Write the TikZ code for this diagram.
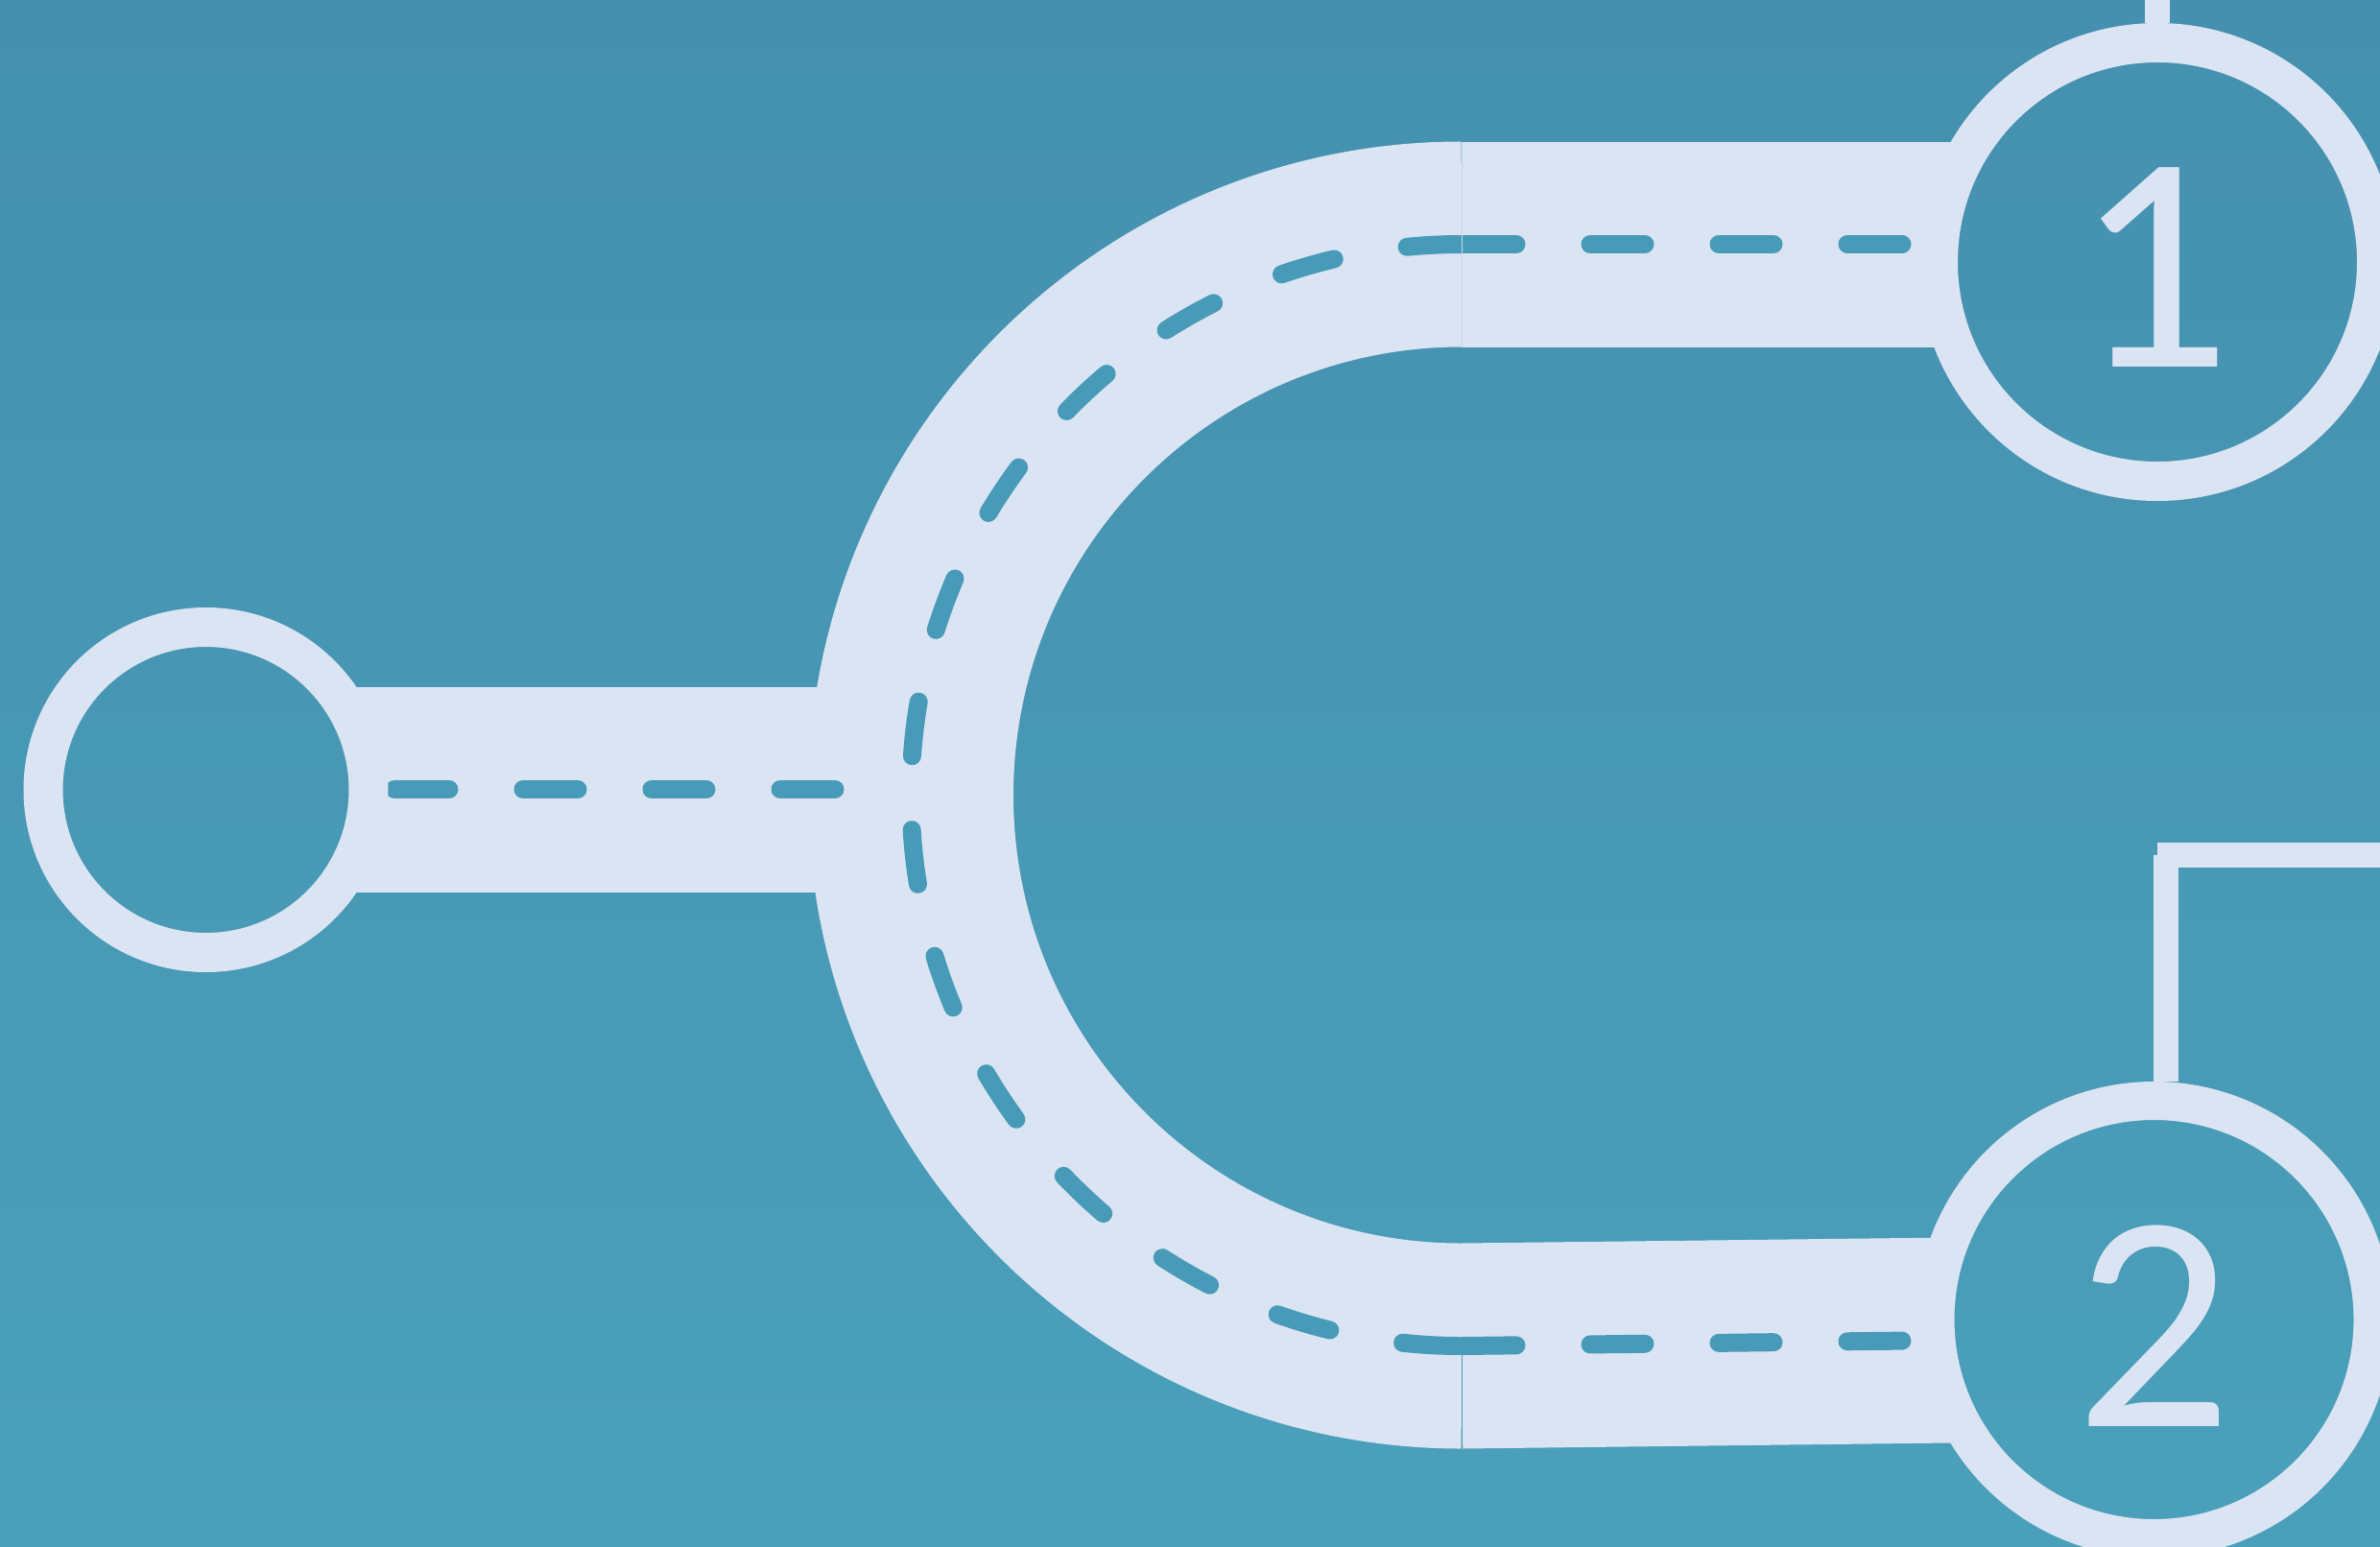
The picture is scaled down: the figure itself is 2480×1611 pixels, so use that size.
\documentclass[tikz,border=0pt]{standalone}
\usepackage{fontspec}
\setmainfont{Carlito}
\definecolor{bgtop}{RGB}{69,144,175}
\definecolor{bgbot}{RGB}{74,160,187}
\definecolor{road}{RGB}{219,228,243}
\definecolor{lane}{RGB}{72,155,184}
\begin{document}
\begin{tikzpicture}[x=1pt,y=1pt,
  roadband/.style={line width=214pt, draw=road, line cap=butt},
  laneline/.style={line width=19pt, draw=lane, line cap=round, dash pattern=on 57pt off 77pt},
  ring/.style={circle, draw=road, inner sep=0pt, outer sep=auto},
  wire/.style={line width=26pt, draw=road, line cap=butt},
  digit/.style={text=road, font=\fontsize{323}{323}\selectfont, inner sep=0pt},
  seam/.style={line width=1.5pt}]
\useasboundingbox (0,0) rectangle (2480,-1611);
\clip (0,0) rectangle (2480,-1611);
\shade[top color=bgtop,bottom color=bgbot] (0,0) rectangle (2480,-1611);

% key points
\coordinate (p0) at (214.5,-823);
\coordinate (p1) at (2248,-273);
\coordinate (p2) at (2244.5,-1375);
\coordinate (lstart) at (214.5,-822.5);
\coordinate (lend) at (870,-822.5);
\coordinate (atop) at (1523,-254.5);
\coordinate (abot) at (1523,-1402.5);
\coordinate (tend) at (2248,-254.5);
\coordinate (bend) at (2244.5,-1394);

% road bands
\draw[roadband] (lstart) -- (lend);
\draw[roadband] (atop) arc[start angle=90,end angle=270,radius=574];
\draw[roadband] (atop) -- (tend);
\draw[roadband] (abot) -- (bend);

% lane markings
\draw[laneline] (lend) -- (lstart);
\draw[laneline] (atop) arc[start angle=90,end angle=270,radius=574];
\draw[laneline] (atop) -- (tend);
\draw[laneline] (abot) -- (bend);

% seams
\draw[seam, draw=road!85!bgtop] ([xshift=0.5pt,yshift=107pt]atop) -- ([xshift=0.5pt,yshift=-107pt]atop);
\draw[seam, draw=lane] ([xshift=0.5pt]abot) -- ([xshift=0.5pt,yshift=-107pt]abot);

% inner discs show background
\foreach \c/\r in {p0/150, p1/209, p2/209}{
  \begin{scope}
    \clip (\c) circle[radius=\r];
    \shade[top color=bgtop,bottom color=bgbot] (0,0) rectangle (2480,-1611);
  \end{scope}
}

% rings
\node[ring, line width=41pt, minimum size=339pt] (c0) at (p0) {};
\node[ring, line width=41pt, minimum size=457pt] (c1) at (p1) {};
\node[ring, line width=40pt, minimum size=456pt] (c2) at (p2) {};

% connectors
\coordinate (w1) at (2248,0);
\coordinate (w2a) at (2480,-891);
\coordinate (w2b) at (2248,-891);
\coordinate (w2c) at (2256.7,-891);
\draw[wire] (w1) -- (c1.north);
\draw[wire] (w2a) -- (w2b);
\draw[wire] (w2c) -- (w2c |- c2.north);

% labels
\node[digit] (l1) at ([xshift=-5pt,yshift=-6pt]c1.center) {1};
\node[digit] (l2) at ([yshift=-6.5pt]c2.center) {2};
\end{tikzpicture}
\end{document}
